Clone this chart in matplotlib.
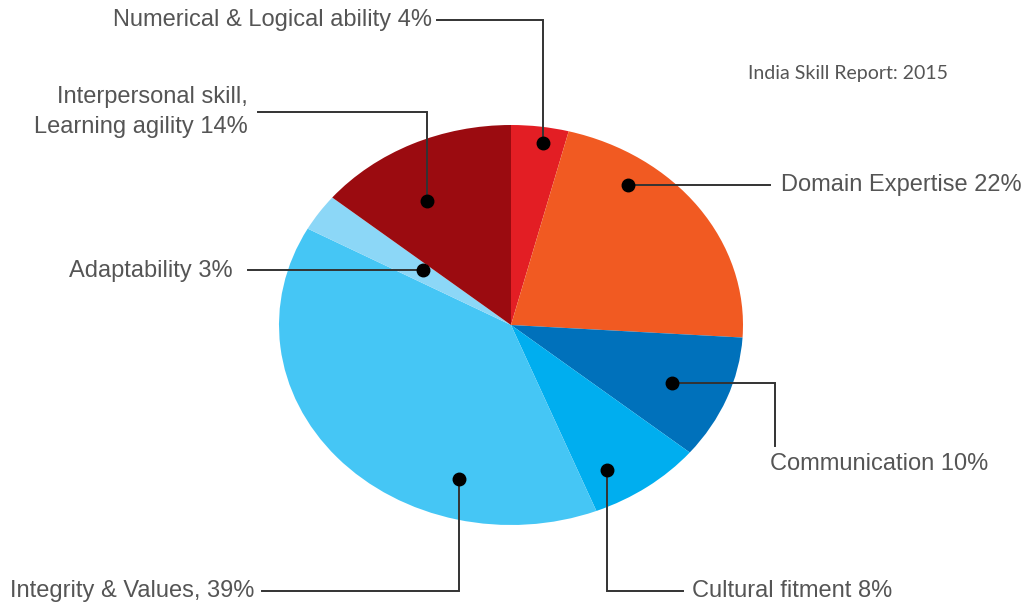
import numpy as np
import matplotlib.pyplot as plt

# data
skills = ["Numerical & Logical ability 4%", "Domain Expertise 22%", "Communication 10%",
          "Cultural fitment 8%", "Integrity & Values, 39%", "Adaptability 3%",
          "Interpersonal skill,\nLearning agility 14%"]
share = [4, 22, 10, 8, 39, 3, 14]
colors = ["#E31E24", "#F15A22", "#0071BB", "#00AEEF", "#45C6F5", "#8CD7F7", "#9B0B10"]

# where the dot sits inside each wedge (fraction of wedge angle, radius)
dot_frac = [0.6, 0.27, 0.53, 0.72, 0.27, 0.67, 0.40]
dot_r = [0.92, 0.86, 0.75, 0.835, 0.80, 0.47, 0.72]

W, H = 1024, 607
cx, cy, rx, ry = 511, 325, 232, 200


def d(px, py):
    return ((px - cx) / rx, (cy - py) / ry)


# label layout (pixels): text anchor, alignment
label_pos = [((432, 20), "right"), ((781, 185), "left"), ((770, 464), "left"),
             ((692, 591), "left"), ((10, 591), "left"), ((233, 271), "right"),
             ((248, 112), "right")]
# leader path from the dot: ("v", y) goes vertical, ("h", x) goes horizontal (pixels)
leaders = [[("v", 20), ("h", 437)],
           [("h", 770)],
           [("h", 775), ("v", 446)],
           [("v", 591), ("h", 683)],
           [("v", 591), ("h", 262)],
           [("h", 248)],
           [("v", 112), ("h", 258)]]

fig = plt.figure(figsize=(W / 100, H / 100), dpi=100)
ax = fig.add_axes([0, 0, 1, 1])

wedges, _ = ax.pie(share, colors=colors, startangle=90, counterclock=False,
                   wedgeprops=dict(linewidth=0))
ax.set_aspect("auto")
ax.set_xlim(-cx / rx, (W - cx) / rx)
ax.set_ylim((cy - H) / ry, cy / ry)
ax.axis("off")

fam = ["Liberation Sans", "DejaVu Sans"]

for i, w in enumerate(wedges):
    a = np.deg2rad(w.theta2 - dot_frac[i] * (w.theta2 - w.theta1))
    x0 = dot_r[i] * np.cos(a)
    y0 = dot_r[i] * np.sin(a)
    xs, ys = [x0], [y0]
    for kind, v in leaders[i]:
        if kind == "v":
            xs.append(xs[-1])
            ys.append((cy - v) / ry)
        else:
            xs.append((v - cx) / rx)
            ys.append(ys[-1])
    ax.plot(xs, ys, color="#333333", lw=1.4, solid_joinstyle="miter")
    ax.plot(x0, y0, "o", color="black", ms=9)
    (tx, ty), ha = label_pos[i]
    tx, ty = d(tx, ty)
    ax.text(tx, ty, skills[i], ha=ha, va="center", fontsize=17, color="#555555",
            linespacing=1.45, family=fam)

tx, ty = d(748, 73)
ax.text(tx, ty, "India Skill Report: 2015", ha="left", va="center", fontsize=14,
        color="#555555", family=["Lato", "DejaVu Sans"])

plt.savefig("out.png", dpi=100)
